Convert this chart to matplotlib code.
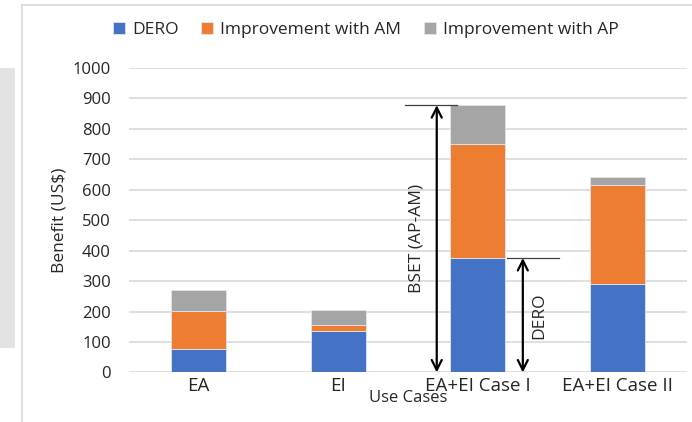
import numpy as np
import matplotlib
matplotlib.use("Agg")
import matplotlib.pyplot as plt
from matplotlib.lines import Line2D
from matplotlib.patches import Rectangle

plt.rcParams['font.family'] = ['Open Sans', 'DejaVu Sans']

# benefit per use case, stacked pieces
cases = ['EA', 'EI', 'EA+EI Case I', 'EA+EI Case II']
dero = [77, 136, 376, 290]
gain_am = [124, 19, 374, 327]
gain_ap = [69, 49, 128, 24]
series_names = ['DERO', 'Improvement with AM', 'Improvement with AP']
colors = ['#4472C4', '#ED7D31', '#A5A5A5']

fig = plt.figure(figsize=(6.92, 4.22), dpi=100)
ax = fig.add_axes([0.1864, 0.1173, 0.8064, 0.7216])

x = np.arange(len(cases))
bottom = np.zeros(len(cases))
for vals, name, c in zip([dero, gain_am, gain_ap], series_names, colors):
    ax.bar(x, vals, 0.394, bottom=bottom, color=c, label=name,
           edgecolor='#dfe6f3', linewidth=0.6, zorder=3)
    bottom += np.array(vals)

ax.set_xlim(-0.5, 3.5)
ax.set_ylim(0, 1000)
ax.set_yticks(np.arange(0, 1001, 100))
ax.grid(axis='y', color='#d9d9d9', linewidth=1.2, zorder=0)
for s in ['top', 'right', 'left', 'bottom']:
    ax.spines[s].set_visible(False)
ax.tick_params(axis='both', length=0, colors='#262626')
ax.tick_params(axis='y', pad=13, labelsize=12)
ax.tick_params(axis='x', pad=3, labelsize=13.5)
ax.set_xticks(x)
ax.set_xticklabels(cases)
ax.set_ylabel('Benefit (US$)', fontsize=12.5, color='#262626', labelpad=4)
ax.set_xlabel('Use Cases', fontsize=12, color='#262626', labelpad=-3)

# BSET span on case I
top1 = bottom[2]
ax.plot([1.477, 1.849], [top1, top1], color='#404040', lw=0.9, zorder=4)
ax.annotate('', xy=(1.706, 0), xytext=(1.706, top1),
            arrowprops=dict(arrowstyle='<->', color='black', lw=1.6,
                            mutation_scale=18, shrinkA=0, shrinkB=0), zorder=5)
ax.text(1.563, 440, 'BSET (AP-AM)', rotation=90, ha='center', va='center',
        fontsize=12.5, color='#262626')

# DERO span on case I
d1 = dero[2]
ax.plot([2.208, 2.581], [d1, d1], color='#404040', lw=0.9, zorder=4)
ax.annotate('', xy=(2.323, 0), xytext=(2.323, d1),
            arrowprops=dict(arrowstyle='<->', color='black', lw=1.6,
                            mutation_scale=18, shrinkA=0, shrinkB=0), zorder=5)
ax.text(2.444, 188, 'DERO', rotation=90, ha='center', va='center',
        fontsize=12.5, color='#262626')

ax.legend(loc='center', bbox_to_anchor=(366 / 692, 1 - 30 / 422),
          bbox_transform=fig.transFigure, ncol=3, frameon=False,
          handlelength=0.7, handleheight=0.7, handletextpad=0.4,
          columnspacing=1.3, fontsize=12.5, labelcolor='#262626')

# surrounding frame pieces
fig.add_artist(Line2D([22 / 692, 1], [1 - 5 / 422] * 2, color='#d9d9d9', lw=1.2))
fig.add_artist(Line2D([22 / 692] * 2, [0, 1 - 5 / 422], color='#d9d9d9', lw=1.2))
fig.add_artist(Rectangle((0, 1 - 348 / 422), 15 / 692, 280 / 422,
                         color='#e3e3e3', lw=0))

fig.savefig('out.png', dpi=100)
